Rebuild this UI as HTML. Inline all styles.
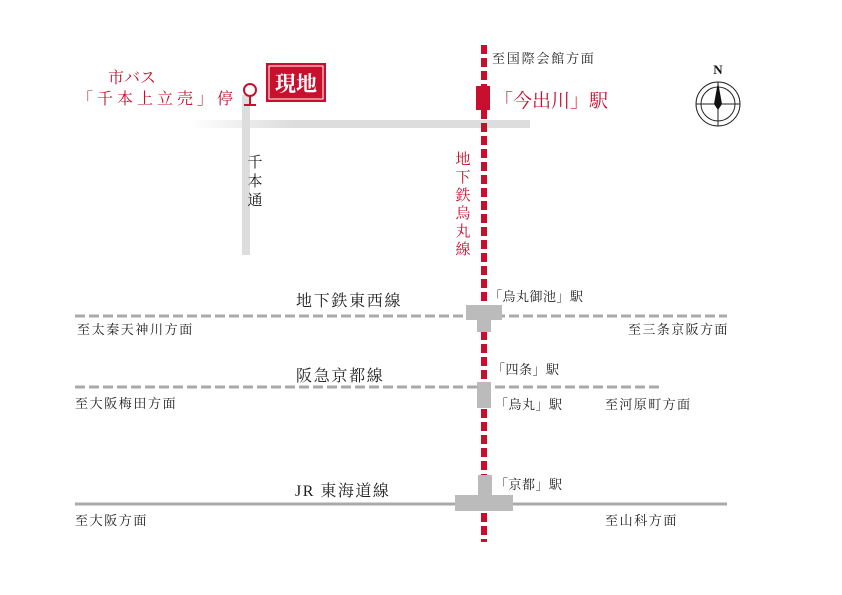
<!DOCTYPE html>
<html><head><meta charset="utf-8"><style>
html,body{margin:0;padding:0;background:#fff}
svg{display:block}
text{font-family:"Liberation Serif","Noto Serif CJK SC",serif}
</style></head><body>
<svg width="842" height="595" viewBox="0 0 842 595" xmlns="http://www.w3.org/2000/svg">
<defs>
<linearGradient id="g" x1="0" x2="1" y1="0" y2="0">
<stop offset="0" stop-color="#ddd" stop-opacity="0"/>
<stop offset="0.3" stop-color="#ddd"/>
<stop offset="1" stop-color="#ddd"/>
</linearGradient>
</defs>
<rect x="190" y="120" width="340" height="8" fill="url(#g)"/>
<rect x="242" y="95" width="8" height="160" fill="#ddd"/>
<line x1="75" y1="316" x2="727" y2="316" stroke="#aaa" stroke-width="3" stroke-dasharray="10 4"/>
<line x1="75" y1="387" x2="660" y2="387" stroke="#aaa" stroke-width="3" stroke-dasharray="10 4"/>
<line x1="75" y1="504" x2="727" y2="504" stroke="#aaa" stroke-width="3"/>
<line x1="484" y1="45" x2="484" y2="542" stroke="#c8102e" stroke-width="6" stroke-dasharray="9 4"/>
<rect x="476" y="86" width="14" height="24" fill="#c8102e"/>
<rect x="466" y="305" width="36" height="15" fill="#bbb"/>
<rect x="477" y="305" width="14" height="27" fill="#bbb"/>
<rect x="477" y="382" width="14" height="26" fill="#bbb"/>
<rect x="478" y="475" width="14" height="25" fill="#bbb"/>
<rect x="455" y="495" width="58" height="16" fill="#bbb"/>
<circle cx="250" cy="90" r="6" fill="none" stroke="#c8102e" stroke-width="2"/>
<line x1="250" y1="96" x2="250" y2="105" stroke="#c8102e" stroke-width="2"/>
<line x1="244" y1="105" x2="256" y2="105" stroke="#c8102e" stroke-width="2"/>
<rect x="266" y="63" width="60" height="39" fill="#c8102e"/>
<rect x="269" y="66" width="54" height="33" fill="none" stroke="#fff" stroke-width="1"/>
<text x="296" y="91" font-size="21" fill="#fff" text-anchor="middle" font-weight="bold">現地</text>
<text x="108" y="83" font-size="16" fill="#c8102e">市バス</text>
<text x="77" y="104" font-size="16" letter-spacing="4" fill="#c8102e">「千本上立売」停</text>
<text font-size="15" fill="#222" text-anchor="middle"><tspan x="255" y="167">千</tspan><tspan x="255" y="186">本</tspan><tspan x="255" y="205">通</tspan></text>
<text font-size="15" fill="#c8102e" text-anchor="middle"><tspan x="463" y="164">地</tspan><tspan x="463" y="182">下</tspan><tspan x="463" y="200">鉄</tspan><tspan x="463" y="218">烏</tspan><tspan x="463" y="236">丸</tspan><tspan x="463" y="254">線</tspan></text>
<text x="492" y="63" font-size="13" letter-spacing="1.8" fill="#222">至国際会館方面</text>
<text x="494" y="107" font-size="19" fill="#c8102e">「今出川」駅</text>
<text x="296" y="306" font-size="16" letter-spacing="1.7" fill="#222">地下鉄東西線</text>
<text x="77" y="334" font-size="13" letter-spacing="1.6" fill="#222">至太秦天神川方面</text>
<text x="628" y="334" font-size="13" letter-spacing="1.4" fill="#222">至三条京阪方面</text>
<text x="489" y="301" font-size="13" letter-spacing="0.5" fill="#222">「烏丸御池」駅</text>
<text x="296" y="381" font-size="16" letter-spacing="1.7" fill="#222">阪急京都線</text>
<text x="75" y="408" font-size="13" letter-spacing="1.6" fill="#222">至大阪梅田方面</text>
<text x="492" y="374" font-size="13" letter-spacing="0.5" fill="#222">「四条」駅</text>
<text x="495" y="409" font-size="13" letter-spacing="0.5" fill="#222">「烏丸」駅</text>
<text x="605" y="409" font-size="13" letter-spacing="1.4" fill="#222">至河原町方面</text>
<text x="295" y="496" font-size="16" letter-spacing="1.5" fill="#222">JR 東海道線</text>
<text x="495" y="489" font-size="13" letter-spacing="0.5" fill="#222">「京都」駅</text>
<text x="75" y="525" font-size="13" letter-spacing="1.6" fill="#222">至大阪方面</text>
<text x="605" y="525" font-size="13" letter-spacing="1.6" fill="#222">至山科方面</text>
<circle cx="718" cy="104" r="22" fill="none" stroke="#222" stroke-width="1"/>
<circle cx="718" cy="104" r="17" fill="none" stroke="#222" stroke-width="1"/>
<line x1="696" y1="104" x2="740" y2="104" stroke="#222" stroke-width="1"/>
<line x1="718" y1="82" x2="718" y2="126" stroke="#222" stroke-width="1"/>
<polygon points="718,82 722,104 718,110 714,104" fill="#111"/>
<text x="718" y="74" font-size="13" fill="#111" text-anchor="middle" font-weight="bold" font-family="Liberation Sans,sans-serif">N</text>
</svg>
</body></html>
